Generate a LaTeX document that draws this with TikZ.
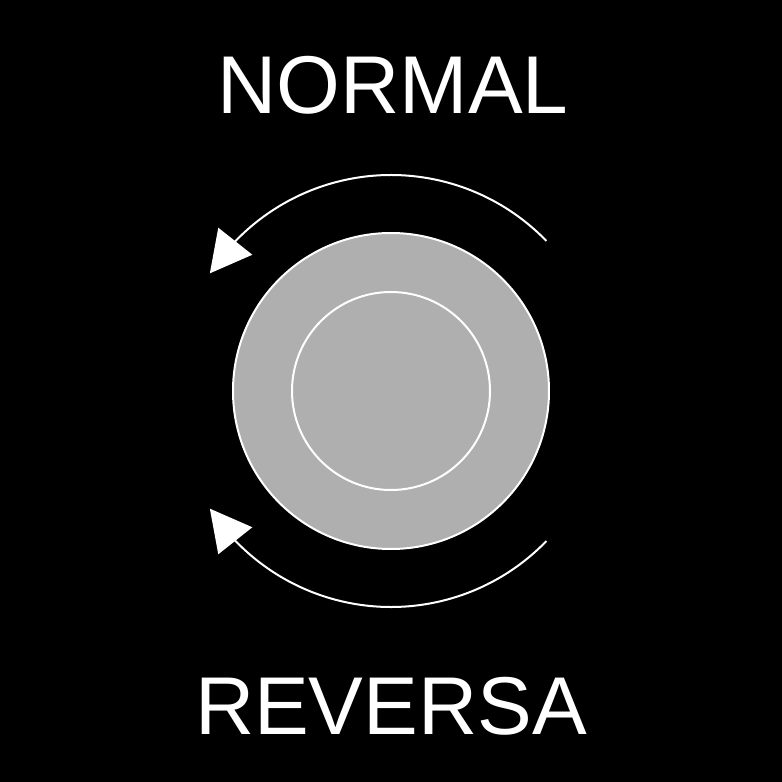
\documentclass[tikz,border=0pt]{standalone}
\usepackage{fontspec}
\setmainfont{Liberation Sans}
\usepackage{tikz}
\usetikzlibrary{arrows.meta,bending}
\usepackage{xcolor}
\definecolor{knobgray}{HTML}{AFAFAF}

\begin{document}
\begin{tikzpicture}[
  x=1pt, y=1pt,
  >={Triangle[length=41pt, width=43pt]},
  title/.style={text=white, anchor=base, inner sep=0pt, font=\fontsize{82}{94}\selectfont},
  ring/.style={draw=white, line width=2pt, fill=knobgray},
  turn/.style={draw=white, line width=2pt, ->}
]
  \fill[black] (-391,-391) rectangle (391,391);
  \useasboundingbox (-391,-391) rectangle (391,391);
  \node[title] (normal) at (2,277) {NORMAL};
  \node[title] (reversa) at (0,-343) {REVERSA};
  \draw[ring] (0,0) circle[radius=158];
  \draw[ring] (0,0) circle[radius=99];
  \draw[turn] (44:216) arc[start angle=44, end angle=147, radius=216];
  \draw[turn] (-44:216) arc[start angle=-44, end angle=-147, radius=216];
\end{tikzpicture}
\end{document}
